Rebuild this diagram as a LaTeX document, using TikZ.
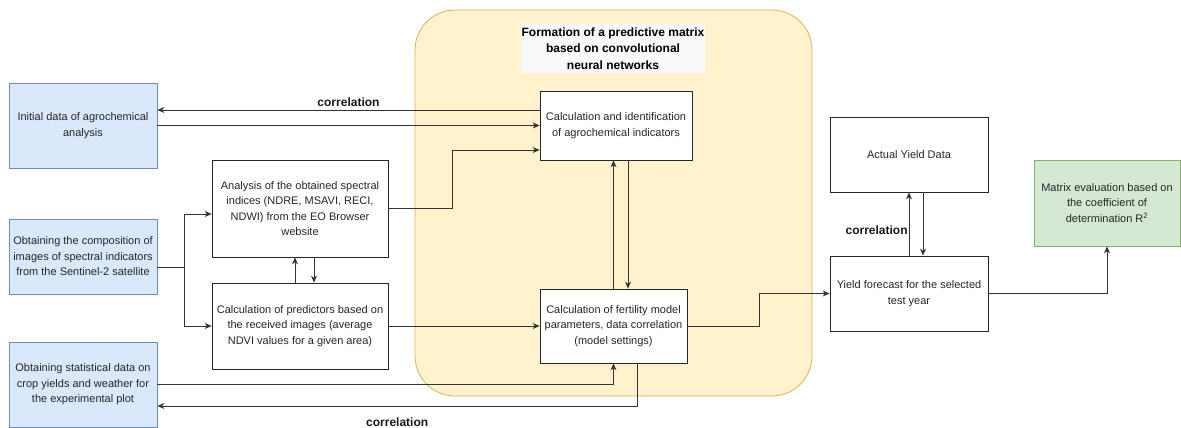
\documentclass[tikz,border=0pt]{standalone}
\usepackage{fontspec}
\setmainfont{Liberation Sans}
\usetikzlibrary{arrows.meta}
\definecolor{bluefill}{HTML}{DAE8FC}
\definecolor{blueline}{HTML}{6C8EBF}
\definecolor{greenfill}{HTML}{D5E8D4}
\definecolor{greenline}{HTML}{82B366}
\definecolor{groupfill}{HTML}{FFF2CC}
\definecolor{groupline}{HTML}{D6B656}
\definecolor{titlefill}{HTML}{F8F9FA}
\begin{document}
\begin{tikzpicture}[x=1pt,y=-1pt]
		\tikzstyle{box}=[draw=black!85,line width=0.8pt,fill=white,align=center,text=black!85,font=\fontsize{11}{15.5}\selectfont,inner sep=2pt]
		\tikzstyle{bluebox}=[box,draw=blueline,fill=bluefill]
		\tikzstyle{greenbox}=[box,draw=greenline,fill=greenfill]
		\tikzstyle{myarrow}=[line width=0.8pt,draw=black!80,-{Stealth[length=7pt,width=6pt]}]
		\tikzstyle{corr}=[text=black!90,font=\bfseries\fontsize{12}{14}\selectfont]
		\useasboundingbox (0,0) rectangle (1181,428);

		\node[fill=groupfill,draw=groupline,line width=0.8pt,rounded corners=40pt,minimum width=397,minimum height=386] (cnn) at (613.5,203) {};
		\node[fill=titlefill,align=center,text=black,font=\bfseries\fontsize{12}{16.5}\selectfont,minimum width=182,minimum height=49,inner sep=1pt] (title) at (613,48.5) {Formation of a predictive matrix\\based on convolutional\\neural networks};

		\foreach \name / \y / \h / \txt in {init/125.5/85/{Initial data of agrochemical\\analysis},
			sentinel/256.5/75/{Obtaining the composition of\\images of spectral indicators\\from the Sentinel-2 satellite},
			stat/384.5/85/{Obtaining statistical data on\\crop yields and weather for\\the experimental plot}} {
			\node[bluebox,minimum width=148,minimum height=\h] (\name) at (83,\y) {\txt};
		}

		\node[box,minimum width=176,minimum height=97] (analysis) at (300,208.5) {Analysis of the obtained spectral\\indices (NDRE, MSAVI, RECI,\\NDWI) from the EO Browser\\website};
		\node[box,minimum width=176,minimum height=86] (predict) at (300,326) {Calculation of predictors based on\\the received images (average\\NDVI values for a given area)};
		\node[box,minimum width=152,minimum height=69] (agro) at (616,125.5) {Calculation and identification\\of agrochemical indicators};
		\node[box,minimum width=147,minimum height=74] (fert) at (613.5,326) {Calculation of fertility model\\parameters, data correlation\\(model settings)};
		\node[box,minimum width=158,minimum height=75] (actual) at (909,154.5) {Actual Yield Data};
		\node[box,minimum width=158,minimum height=75] (forecast) at (909,293.5) {Yield forecast for the selected\\test year};
		\node[greenbox,minimum width=146,minimum height=86] (matrix) at (1107,203) {Matrix evaluation based on\\the coefficient of\\determination R\textsuperscript{2}};

		\draw[myarrow] ([yshift=15.5pt]agro.west) -- ([yshift=15.5pt]agro.west -| init.east) node[corr,midway,above] {correlation};
		\draw[myarrow] (init.east) -- (agro.west);
		\draw[myarrow] (analysis.east) -- ++(64,0) |- ([yshift=-24.5pt]agro.west);

		\draw[line width=0.8pt,draw=black!80] ([yshift=-10.5pt]sentinel.east) -- ++(27,0) coordinate (split);
		\draw[myarrow] (split) |- ([yshift=-5.5pt]analysis.west);
		\draw[myarrow] (split) |- (predict.west);
		\draw[myarrow] ([xshift=-5pt]predict.north) -- ([xshift=-5pt]analysis.south);
		\draw[myarrow] ([xshift=14pt]analysis.south) -- ([xshift=14pt]predict.north);

		\draw[myarrow] (predict.east) -- (fert.west);
		\draw[myarrow] (stat.east) -| (fert.south);
		\draw[myarrow] ([xshift=23.5pt]fert.south) |- ([yshift=-21.5pt]stat.east) node[corr,pos=0.75,below,yshift=-8pt] {correlation};
		\draw[myarrow] (fert.north) -- (fert.north |- agro.south);
		\draw[myarrow] ([xshift=12pt]agro.south) -- ([xshift=12pt]agro.south |- fert.north);

		\draw[myarrow] (fert.east) -- ++(72,0) |- (forecast.west);
		\draw[myarrow] (forecast.north) -- (actual.south) node[corr,pos=0.4,left,inner sep=1pt] {correlation};
		\draw[myarrow] ([xshift=14pt]actual.south) -- ([xshift=14pt]forecast.north);
		\draw[myarrow] (forecast.east) -| (matrix.south);
	\end{tikzpicture}
\end{document}
